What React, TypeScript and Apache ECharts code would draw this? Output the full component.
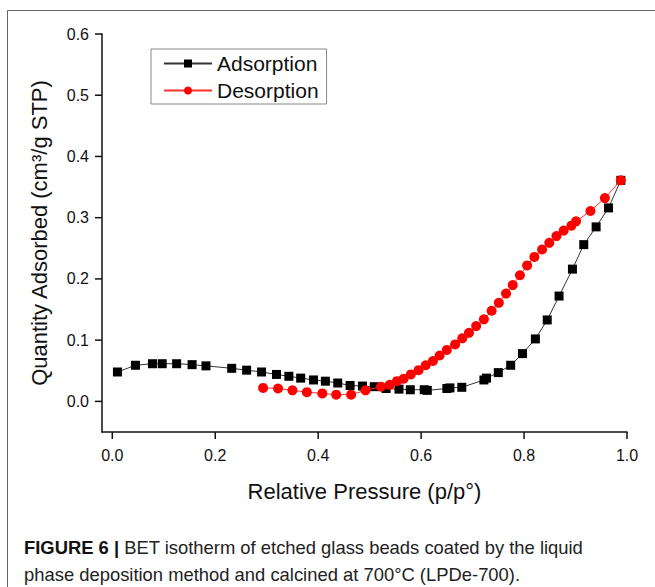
import React, { useEffect, useRef } from "react";
import * as echarts from "echarts";

const adsX = [0.010, 0.045, 0.078, 0.097, 0.125, 0.155, 0.182, 0.232, 0.261, 0.290, 0.319, 0.343, 0.366, 0.391, 0.414, 0.438, 0.462, 0.486, 0.509, 0.532, 0.557, 0.579, 0.606, 0.612, 0.650, 0.656, 0.679, 0.722, 0.727, 0.750, 0.774, 0.797, 0.822, 0.845, 0.868, 0.894, 0.916, 0.940, 0.964, 0.988];
const adsY = [0.048, 0.059, 0.0615, 0.0615, 0.0615, 0.060, 0.058, 0.054, 0.051, 0.048, 0.044, 0.041, 0.038, 0.035, 0.033, 0.030, 0.026, 0.025, 0.024, 0.021, 0.020, 0.019, 0.019, 0.018, 0.021, 0.022, 0.023, 0.035, 0.038, 0.047, 0.059, 0.078, 0.102, 0.133, 0.172, 0.216, 0.256, 0.285, 0.316, 0.361];

const desX = [0.293, 0.322, 0.350, 0.378, 0.408, 0.435, 0.464, 0.492, 0.522, 0.539, 0.553, 0.566, 0.580, 0.595, 0.609, 0.623, 0.636, 0.650, 0.666, 0.680, 0.693, 0.707, 0.722, 0.737, 0.751, 0.765, 0.778, 0.792, 0.806, 0.820, 0.835, 0.849, 0.863, 0.877, 0.892, 0.901, 0.929, 0.957, 0.988];
const desY = [0.022, 0.021, 0.018, 0.015, 0.013, 0.011, 0.011, 0.018, 0.024, 0.027, 0.033, 0.037, 0.044, 0.051, 0.059, 0.066, 0.075, 0.084, 0.093, 0.103, 0.112, 0.123, 0.134, 0.148, 0.161, 0.176, 0.190, 0.206, 0.222, 0.236, 0.248, 0.259, 0.270, 0.279, 0.287, 0.294, 0.311, 0.332, 0.361];

const xTicks = [0, 0.2, 0.4, 0.6, 0.8, 1.0];
const yTicks = [0, 0.1, 0.2, 0.3, 0.4, 0.5, 0.6];

const seriesNames = ["Adsorption", "Desorption"];
const xTitle = "Relative Pressure (p/p°)";
const yTitle = "Quantity Adsorbed (cm³/g STP)";
const captionBold = "FIGURE 6 |";
const captionLine1 = " BET isotherm of etched glass beads coated by the liquid";
const captionLine2 = "phase deposition method and calcined at 700°C (LPDe-700).";

const FONT = "'Liberation Sans', Arial, Helvetica, sans-serif";
const AXIS_MIN_X = -0.02;
const AXIS_MIN_Y = -0.05;
const TICK_LEN = 7;

export default function App() {
  const ref = useRef<HTMLDivElement>(null);
  useEffect(() => {
    if (!ref.current) return;
    const chart = echarts.init(ref.current, null, { renderer: "svg" });
    const axisCommon = {
      axisLine: { show: true, onZero: false, lineStyle: { color: "#111", width: 1.5 } },
      axisTick: { show: false },
      splitLine: { show: false },
      nameLocation: "middle" as const,
      nameTextStyle: { fontFamily: FONT, fontSize: 22, color: "#111" },
    };
    chart.setOption({
      animation: false,
      backgroundColor: "#fff",
      textStyle: { fontFamily: FONT },
      grid: { left: 102, right: 28, top: 34, bottom: 155, containLabel: false },
      xAxis: {
        type: "value",
        min: AXIS_MIN_X,
        max: 1.0,
        name: xTitle,
        nameGap: 48,
        ...axisCommon,
        axisLabel: {
          customValues: xTicks,
          margin: 15,
          fontSize: 16,
          color: "#111",
          fontFamily: FONT,
          formatter: (v: number) => v.toFixed(1),
        },
      },
      yAxis: {
        type: "value",
        min: AXIS_MIN_Y,
        max: 0.6,
        name: yTitle,
        nameGap: 52,
        ...axisCommon,
        axisLabel: {
          customValues: yTicks,
          margin: 13,
          fontSize: 16,
          color: "#111",
          fontFamily: FONT,
          formatter: (v: number) => v.toFixed(1),
        },
      },
      legend: {
        orient: "vertical",
        left: 151,
        top: 49,
        padding: [4, 8, 3, 12],
        itemGap: 6,
        itemWidth: 48,
        itemHeight: 10,
        borderColor: "#888",
        borderWidth: 1,
        textStyle: { fontFamily: FONT, fontSize: 21, color: "#111", lineHeight: 21 },
        data: seriesNames,
      },
      series: [
        {
          name: seriesNames[0],
          type: "line",
          data: adsX.map((x, i) => [x, adsY[i]]),
          symbol: "rect",
          symbolSize: 9,
          itemStyle: { color: "#000" },
          lineStyle: { color: "#333", width: 1 },
          z: 2,
        },
        {
          name: seriesNames[1],
          type: "line",
          data: desX.map((x, i) => [x, desY[i]]),
          symbol: "circle",
          symbolSize: 10,
          itemStyle: { color: "#ff0000" },
          lineStyle: { color: "#ff3030", width: 1 },
          z: 3,
        },
        {
          type: "custom",
          name: "xticks",
          silent: true,
          clip: false,
          data: xTicks.map((v) => [v, AXIS_MIN_Y]),
          renderItem: (params: any, api: any) => {
            const p = api.coord([api.value(0), api.value(1)]);
            return {
              type: "line",
              shape: { x1: p[0], y1: p[1], x2: p[0], y2: p[1] + TICK_LEN },
              style: { stroke: "#111", lineWidth: 1.5 },
            };
          },
          z: 5,
        },
        {
          type: "custom",
          name: "yticks",
          silent: true,
          clip: false,
          data: yTicks.map((v) => [AXIS_MIN_X, v]),
          renderItem: (params: any, api: any) => {
            const p = api.coord([api.value(0), api.value(1)]);
            return {
              type: "line",
              shape: { x1: p[0] - TICK_LEN, y1: p[1], x2: p[0], y2: p[1] },
              style: { stroke: "#111", lineWidth: 1.5 },
            };
          },
          z: 5,
        },
      ],
      graphic: [
        { type: "line", shape: { x1: 7.5, y1: 10.5, x2: 655, y2: 10.5 }, style: { stroke: "#666", lineWidth: 1 } },
        { type: "line", shape: { x1: 7.5, y1: 10.5, x2: 7.5, y2: 587 }, style: { stroke: "#666", lineWidth: 1 } },
        {
          type: "text",
          left: 24,
          top: 538,
          style: {
            text: "{b|" + captionBold + "}" + captionLine1,
            font: "18.4px " + FONT,
            fill: "#222",
            rich: { b: { fontWeight: "bold", fontSize: 18.4, fontFamily: FONT, fill: "#111" } },
          },
        },
        {
          type: "text",
          left: 24,
          top: 565,
          style: { text: captionLine2, font: "18.4px " + FONT, fill: "#222" },
        },
      ],
    });
    return () => chart.dispose();
  }, []);
  return (
    <div
      ref={ref}
      style={{ position: "fixed", left: 0, top: 0, width: 655, height: 587, background: "#fff" }}
    />
  );
}
